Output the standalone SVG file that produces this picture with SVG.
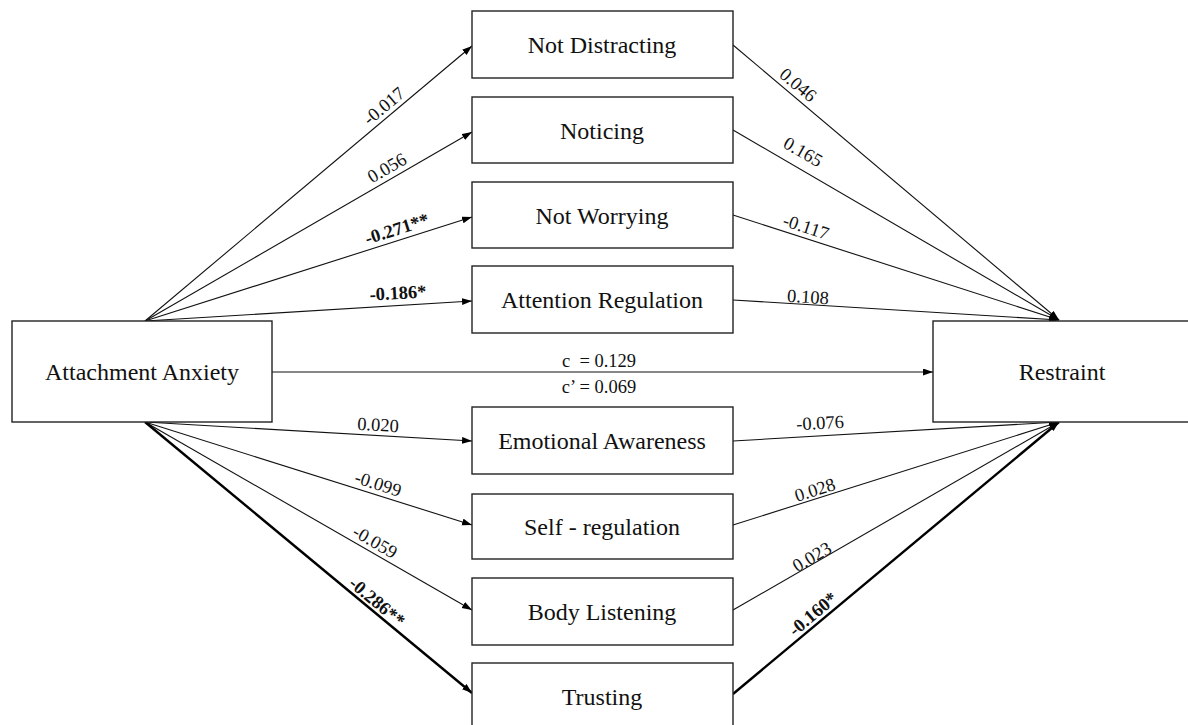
<svg xmlns="http://www.w3.org/2000/svg" width="1188" height="725" viewBox="0 0 1188 725">
<defs>
<marker id="ah" markerUnits="userSpaceOnUse" markerWidth="11" markerHeight="8" refX="10" refY="3.5" orient="auto">
<path d="M0,0 L10,3.5 L0,7 z" fill="#000"/>
</marker>
<style>
.box{fill:#fff;stroke:#222;stroke-width:1.4}
.nt{font-family:"Liberation Serif","Times New Roman",serif;font-size:24px;fill:#111;text-anchor:middle}
.ln{stroke:#111;stroke-width:1.1;fill:none;marker-end:url(#ah)}
.lnb{stroke:#000;stroke-width:2.4;fill:none;marker-end:url(#ah)}
.lb{font-family:"Liberation Serif","Times New Roman",serif;font-size:18.5px;fill:#111;text-anchor:middle}
.bd{font-weight:bold}
</style>
</defs>
<rect width="1188" height="725" fill="#fff"/>

<g id="connectors">
<line class="ln" x1="145" y1="321" x2="472" y2="46"/>
<line class="ln" x1="145" y1="321" x2="472" y2="132"/>
<line class="ln" x1="145" y1="321" x2="472" y2="217"/>
<line class="ln" x1="145" y1="321" x2="472" y2="301"/>
<line class="ln" x1="145" y1="422" x2="472" y2="441"/>
<line class="ln" x1="145" y1="422" x2="472" y2="525"/>
<line class="ln" x1="145" y1="422" x2="472" y2="610"/>
<line class="lnb" x1="145" y1="422" x2="472" y2="693"/>
<line class="ln" x1="733" y1="45" x2="1059" y2="320"/>
<line class="ln" x1="733" y1="130" x2="1059" y2="320"/>
<line class="ln" x1="733" y1="215" x2="1059" y2="320"/>
<line class="ln" x1="733" y1="300" x2="1059" y2="320"/>
<line class="ln" x1="733" y1="441" x2="1059" y2="422"/>
<line class="ln" x1="733" y1="525" x2="1059" y2="422"/>
<line class="ln" x1="733" y1="610" x2="1059" y2="422"/>
<line class="lnb" x1="733" y1="694" x2="1059" y2="422"/>
<line class="ln" x1="272" y1="372" x2="933" y2="372"/>

<text class="lb" transform="translate(384,106) rotate(-40)" y="6">-0.017</text>
<text class="lb" transform="translate(387,168) rotate(-30)" y="6">0.056</text>
<text class="lb bd" transform="translate(397,229) rotate(-17.5)" y="6">-0.271**</text>
<text class="lb bd" transform="translate(398,293) rotate(-3.3)" y="6">-0.186*</text>
<text class="lb" transform="translate(798,85) rotate(40)" y="6">0.046</text>
<text class="lb" transform="translate(803,152) rotate(30)" y="6">0.165</text>
<text class="lb" transform="translate(806,227) rotate(18)" y="6">-0.117</text>
<text class="lb" transform="translate(808,297) rotate(3.5)" y="6">0.108</text>
<text class="lb" transform="translate(378,425) rotate(3.3)" y="6">0.020</text>
<text class="lb" transform="translate(378,484) rotate(17.6)" y="6">-0.099</text>
<text class="lb" transform="translate(375,542) rotate(30)" y="6">-0.059</text>
<text class="lb bd" transform="translate(377,602) rotate(40)" y="6">-0.286**</text>
<text class="lb" transform="translate(820,423) rotate(-3.3)" y="6">-0.076</text>
<text class="lb" transform="translate(815,490) rotate(-17.6)" y="6">0.028</text>
<text class="lb" transform="translate(812,557) rotate(-30)" y="6">0.023</text>
<text class="lb bd" transform="translate(813,614) rotate(-40)" y="6">-0.160*</text>
<text class="lb" x="599" y="367" xml:space="preserve">c  = 0.129</text>
<text class="lb" x="599" y="393">c’ = 0.069</text>
</g>

<g id="attachment-anxiety">
<rect class="box" x="12" y="321" width="260" height="101"/>
<text class="nt" x="142" y="380">Attachment Anxiety</text>
</g>
<g id="restraint">
<rect class="box" x="933" y="321" width="258" height="101"/>
<text class="nt" x="1062" y="380">Restraint</text>
</g>
<g id="not-distracting">
<rect class="box" x="472" y="11" width="261" height="67"/>
<text class="nt" x="602" y="53">Not Distracting</text>
</g>
<g id="noticing">
<rect class="box" x="472" y="97" width="261" height="66"/>
<text class="nt" x="602" y="139">Noticing</text>
</g>
<g id="not-worrying">
<rect class="box" x="472" y="182" width="261" height="66"/>
<text class="nt" x="602" y="224">Not Worrying</text>
</g>
<g id="attention-regulation">
<rect class="box" x="472" y="266" width="261" height="67"/>
<text class="nt" x="602" y="308">Attention Regulation</text>
</g>
<g id="emotional-awareness">
<rect class="box" x="472" y="407" width="261" height="67"/>
<text class="nt" x="602" y="449">Emotional Awareness</text>
</g>
<g id="self-regulation">
<rect class="box" x="472" y="494" width="261" height="65"/>
<text class="nt" x="602" y="535">Self - regulation</text>
</g>
<g id="body-listening">
<rect class="box" x="472" y="578" width="261" height="67"/>
<text class="nt" x="602" y="620">Body Listening</text>
</g>
<g id="trusting">
<rect class="box" x="472" y="663" width="261" height="67"/>
<text class="nt" x="602" y="705">Trusting</text>
</g>
</svg>
